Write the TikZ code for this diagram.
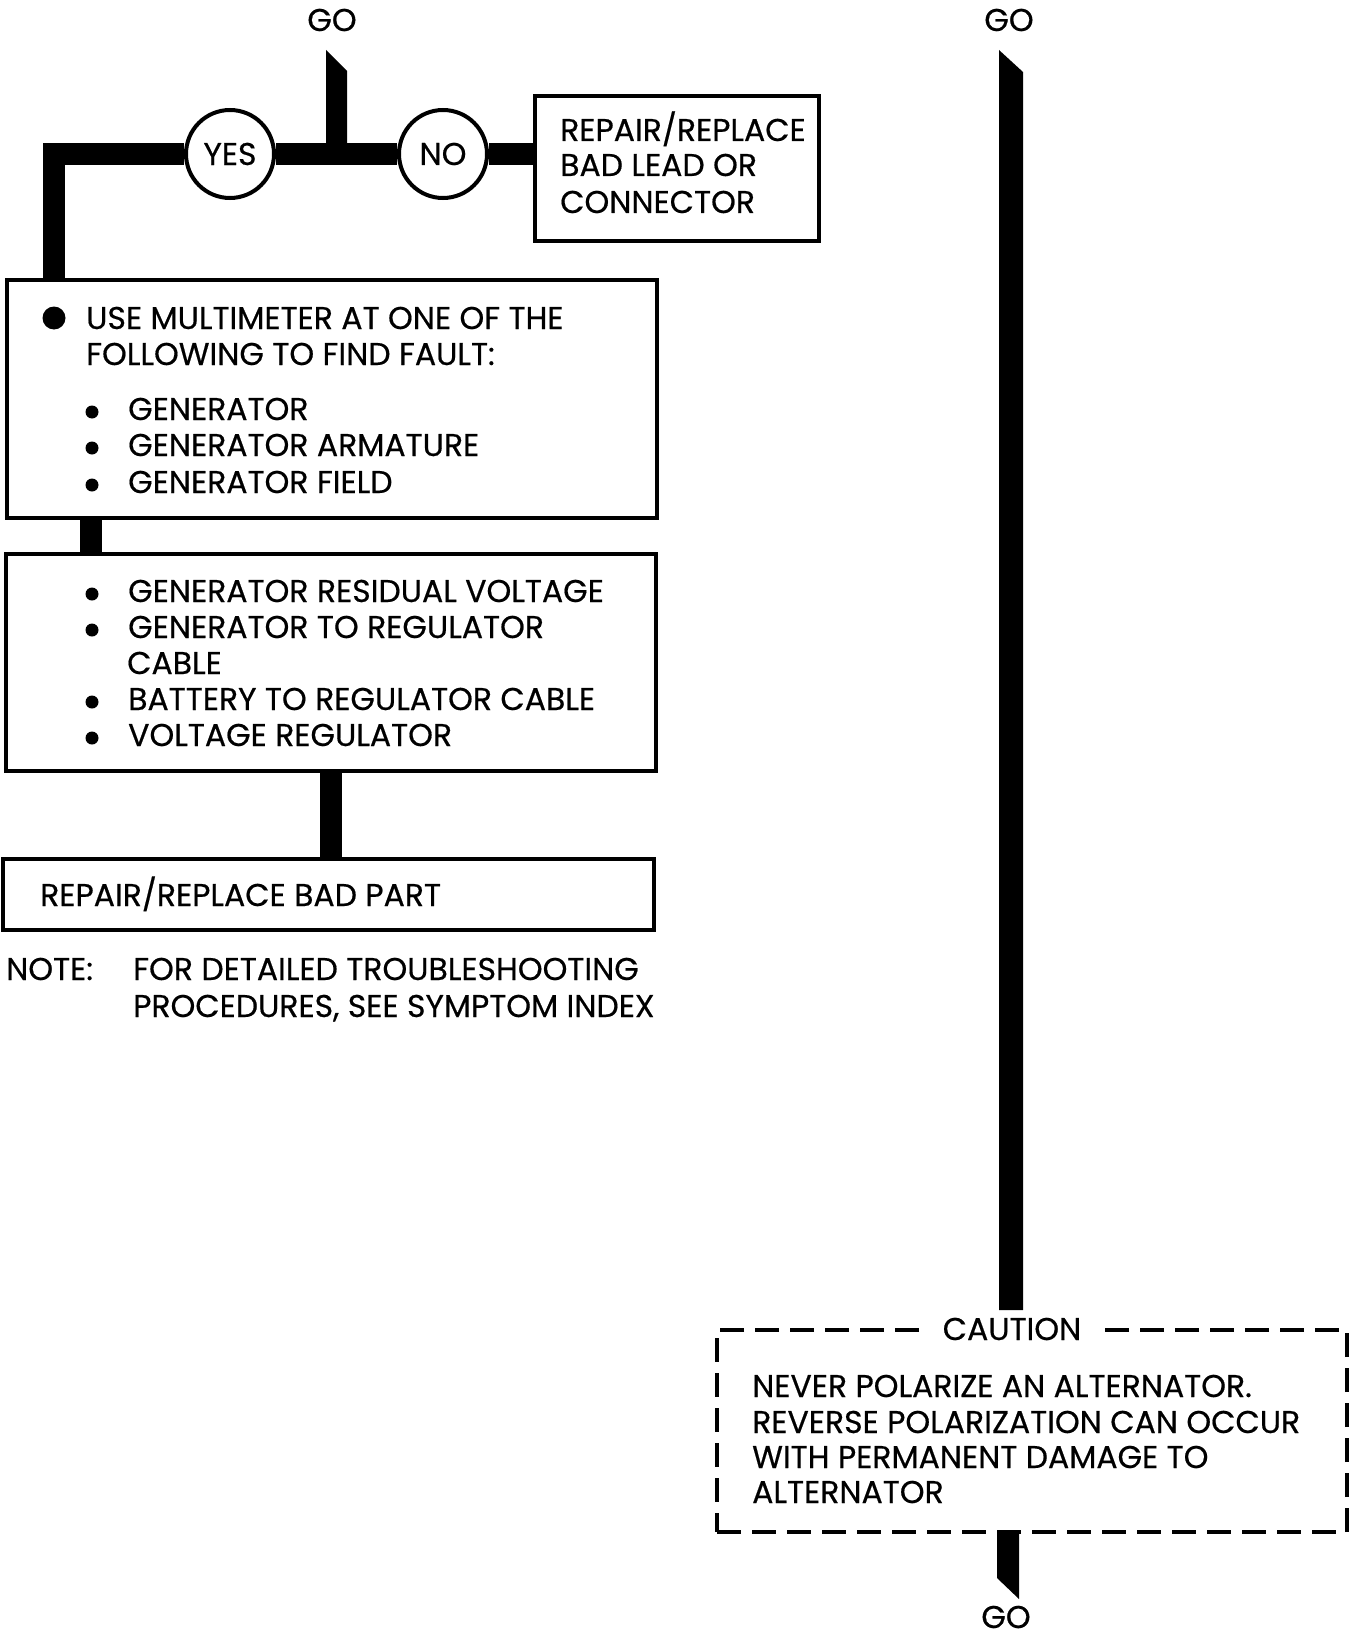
\documentclass[tikz,border=0pt]{standalone}
\usepackage{fontspec}
\setmainfont[FakeBold=0.5]{Poppins}
\newcommand\dgfont{\fontsize{31.5}{36}\selectfont}
\begin{document}
\begin{tikzpicture}[x=1pt,y=-1pt,
  box/.style={draw, line width=3.2pt, inner sep=0pt, rectangle},
  bar/.style={line width=22pt, line join=miter},
  txt/.style={anchor=base west, inner sep=0pt, font=\dgfont},
  ctxt/.style={anchor=base, inner sep=0pt, font=\dgfont},
  decision/.style={draw, circle, line width=4pt, minimum size=88pt, inner sep=0pt, font=\dgfont, fill=white},
  cautionbox/.style={draw, line width=4pt, dash pattern=on 24pt off 11pt, inner sep=0pt, rectangle}]
\useasboundingbox (0,0) rectangle (1354,1637);

% ---- boxes ----
\node[box, minimum width=284pt, minimum height=145pt] (rr) at (677,168.5) {};
\node[box, minimum width=650pt, minimum height=238pt] (b1) at (332,399) {};
\node[box, minimum width=650pt, minimum height=217pt] (b2) at (331,662.5) {};
\node[box, minimum width=651pt, minimum height=71pt] (b3) at (328.5,894.5) {};
\node[cautionbox, minimum width=630pt, minimum height=202pt] (cb) at (1032,1431) {};

% ---- decisions ----
\node[decision] (yes) at (230,154) {YES};
\node[decision] (no) at (443,154) {NO};

% ---- GO labels ----
\node[ctxt] (go1) at (332,31) {GO};
\node[ctxt] (go2) at (1009,31) {GO};
\node[ctxt] (go3) at (1006,1628) {GO};

% ---- connectors ----
\coordinate (corner) at (53.5,154);
\coordinate (c1) at (91,0);
\coordinate (c2) at (331,0);
\draw[bar] (yes.west) -- (corner) -- (corner |- b1.north);
\draw[bar] (yes.east) -- (no.west);
\draw[bar] (no.east) -- (no.east -| rr.west);
\fill (326,50) -- (347,71) -- (347,160) -- (326,160) -- cycle;
\draw[bar] (b1.south -| c1) -- (b2.north -| c1);
\draw[bar] (b2.south -| c2) -- (b3.north -| c2);
\fill (999,50) -- (1023,72) -- (1023,1310) -- (999,1310) -- cycle;
\fill (997,1532) -- (1019,1532) -- (1019,1599) -- (997,1578) -- cycle;

% ---- texts ----
\node[txt] at (560,141) {REPAIR/REPLACE};
\node[txt] at (560,176) {BAD LEAD OR};
\node[txt] at (560,213) {CONNECTOR};

\fill (54,318) circle (11.5);
\node[txt] at (86,329) {USE MULTIMETER AT ONE OF THE};
\node[txt] at (86,365) {FOLLOWING TO FIND FAULT:};
\foreach \yy/\tt in {420/GENERATOR, 456/GENERATOR ARMATURE, 493/GENERATOR FIELD}{
  \fill (92,\yy-8) circle (6.5);
  \node[txt] at (128,\yy) {\tt};
}
\foreach \yy/\tt in {602/GENERATOR RESIDUAL VOLTAGE, 638/GENERATOR TO REGULATOR, 710/BATTERY TO REGULATOR CABLE, 746/VOLTAGE REGULATOR}{
  \fill (92,\yy-8) circle (6.5);
  \node[txt] at (128,\yy) {\tt};
}
\node[txt] at (127,674) {CABLE};
\node[txt] at (40,906) {REPAIR/REPLACE BAD PART};
\node[txt] at (6,980) {NOTE:};
\node[txt] at (133,980) {FOR DETAILED TROUBLESHOOTING};
\node[txt] at (133,1017) {PROCEDURES, SEE SYMPTOM INDEX};

\node[ctxt, fill=white, inner xsep=22pt, inner ysep=4pt] (ct) at (1012,1340) {CAUTION};
\node[txt] at (752,1397) {NEVER POLARIZE AN ALTERNATOR.};
\node[txt] at (752,1433) {REVERSE POLARIZATION CAN OCCUR};
\node[txt] at (752,1468) {WITH PERMANENT DAMAGE TO};
\node[txt] at (752,1503) {ALTERNATOR};
\end{tikzpicture}
\end{document}
